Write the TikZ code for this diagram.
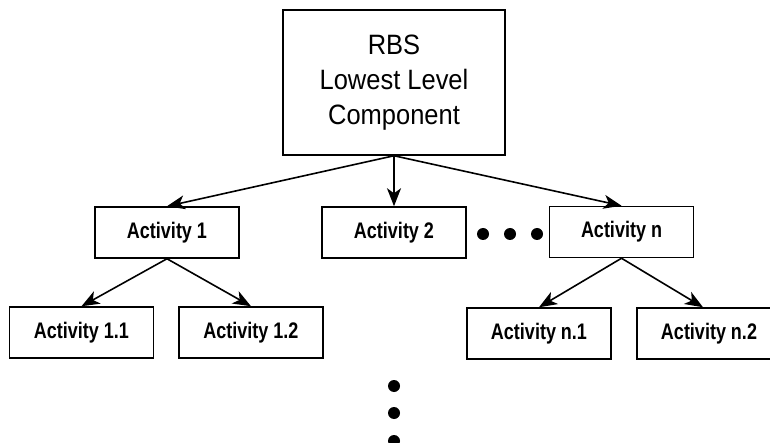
\documentclass[tikz,border=0pt]{standalone}
\usepackage{fontspec}
\setmainfont{Liberation Sans}
\newfontfamily\condreg[FakeStretch=0.91]{Liberation Sans}
\newfontfamily\condbold[FakeStretch=0.8]{Liberation Sans Bold}
\usetikzlibrary{arrows.meta}
\begin{document}
\begin{tikzpicture}[x=1pt,y=-1pt,
  box/.style={draw=black,line width=1.5pt,fill=white,inner sep=0pt,
    minimum width=144pt,minimum height=51pt,
    font=\condbold\fontsize{22.5}{26}\selectfont},
  topbox/.style={draw=black,line width=1.5pt,fill=white,inner sep=0pt,
    minimum width=222pt,minimum height=145pt,align=center,
    font=\condreg\fontsize{28}{35}\selectfont},
  conn/.style={line width=1.6pt,-{Stealth[length=18pt,width=14pt,inset=5pt]}},
  dot/.style={circle,fill=black,inner sep=0pt,minimum size=12pt}]
\useasboundingbox (0,0) rectangle (770,443);
\clip (0,0) rectangle (770,443);
\node[topbox] (top) at (394,82.5) {RBS\\Lowest Level\\Component};
\node[box] (a1) at (167,232.5) {Activity 1};
\node[box] (a2) at (394,232.5) {Activity 2};
\node[box] (an) at (621.5,232) {Activity n};
\node[box] (a11) at (81.5,332.5) {Activity 1.1};
\node[box] (a12) at (251,332.5) {Activity 1.2};
\node[box] (an1) at (539,333.5) {Activity n.1};
\node[box] (an2) at (709,333.5) {Activity n.2};
\node[dot] (h1) at (483,234) {};
\node[dot] (h2) at (510,234) {};
\node[dot] (h3) at (537,234) {};
\node[dot] (v1) at (394,386) {};
\node[dot] (v2) at (394,413) {};
\node[dot] (v3) at (394,441) {};
\draw[conn] (top.south) -- (a1.north);
\draw[conn] (top.south) -- (a2.north);
\draw[conn] (top.south) -- (an.north);
\draw[conn] (a1.south) -- (a11.north);
\draw[conn] (a1.south) -- (a12.north);
\draw[conn] (an.south) -- (an1.north);
\draw[conn] (an.south) -- ([xshift=-6pt]an2.north);
\end{tikzpicture}
\end{document}
